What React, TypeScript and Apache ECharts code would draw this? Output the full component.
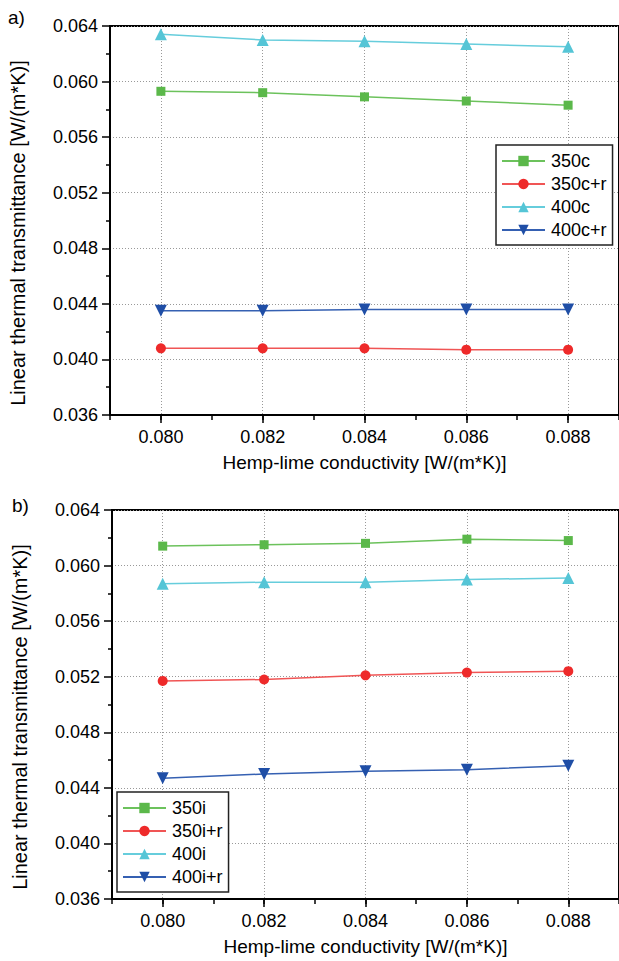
import React, { useEffect, useRef } from "react";
import * as echarts from "echarts";

const xValues = [0.08, 0.082, 0.084, 0.086, 0.088];
const majorXTicks = [0.08, 0.082, 0.084, 0.086, 0.088];

const namesA = ["350c", "350c+r", "400c", "400c+r"];
const s350c = [0.0593, 0.0592, 0.0589, 0.0586, 0.0583];
const s350cr = [0.0408, 0.0408, 0.0408, 0.0407, 0.0407];
const s400c = [0.0634, 0.063, 0.0629, 0.0627, 0.0625];
const s400cr = [0.0435, 0.0435, 0.0436, 0.0436, 0.0436];

const namesB = ["350i", "350i+r", "400i", "400i+r"];
const s350i = [0.0614, 0.0615, 0.0616, 0.0619, 0.0618];
const s350ir = [0.0517, 0.0518, 0.0521, 0.0523, 0.0524];
const s400i = [0.0587, 0.0588, 0.0588, 0.059, 0.0591];
const s400ir = [0.0447, 0.045, 0.0452, 0.0453, 0.0456];

const xTitle = "Hemp-lime conductivity [W/(m*K)]";
const yTitle = "Linear thermal transmittance [W/(m*K)]";

const FONT = "'Liberation Sans', Arial, sans-serif";

const styles = [
  { symbol: "rect", size: 9, rotate: 0, color: "#5bb84a", line: "#6cc25c" },
  { symbol: "circle", size: 10, rotate: 0, color: "#ee2a2a", line: "#f05555" },
  { symbol: "triangle", size: 12, rotate: 0, color: "#55c5d6", line: "#66cddc" },
  { symbol: "triangle", size: 12, rotate: 180, color: "#1f4ea6", line: "#3560b2" },
];

function makeSeries(name: string, vals: number[], idx: number, xi: number, yi: number) {
  const st = styles[idx];
  return {
    name,
    type: "line",
    xAxisIndex: xi,
    yAxisIndex: yi,
    data: xValues.map((x, i) => [x, vals[i]]),
    symbol: st.symbol,
    symbolSize: st.size,
    symbolRotate: st.rotate,
    itemStyle: { color: st.color },
    lineStyle: { color: st.line, width: 1.5 },
    z: 3,
  };
}

function minorX(gridIndex: number) {
  return {
    type: "value",
    gridIndex,
    min: 0.079,
    max: 0.089,
    interval: 0.001,
    position: "bottom",
    axisLine: { show: true, onZero: false, lineStyle: { color: "#000", width: 2 } },
    axisTick: { show: true, inside: false, length: 5, lineStyle: { color: "#000", width: 1.5 } },
    axisLabel: { show: false },
    splitLine: { show: false },
  };
}

function majorX(gridIndex: number) {
  return {
    type: "value",
    gridIndex,
    min: 0.079,
    max: 0.089,
    interval: 0.001,
    position: "bottom",
    name: xTitle,
    nameLocation: "middle",
    nameGap: 38,
    nameTextStyle: { fontSize: 19, color: "#000", fontFamily: FONT },
    axisLine: { show: false, onZero: false },
    axisTick: {
      show: true,
      inside: false,
      length: 8,
      customValues: majorXTicks,
      lineStyle: { color: "#000", width: 1.5 },
    },
    axisLabel: {
      show: true,
      customValues: majorXTicks,
      margin: 13,
      fontSize: 18,
      color: "#000",
      fontFamily: FONT,
      formatter: (v: number) => v.toFixed(3),
    },
    splitLine: {
      show: true,
      lineStyle: { color: "#999", type: [1, 2], width: 1 },
    },
  };
}

function yAx(gridIndex: number) {
  return {
    type: "value",
    gridIndex,
    min: 0.036,
    max: 0.064,
    interval: 0.004,
    axisLine: { show: true, onZero: false, lineStyle: { color: "#000", width: 2 } },
    axisTick: { show: true, inside: false, length: 8, lineStyle: { color: "#000", width: 1.5 } },
    minorTick: { show: true, splitNumber: 2, length: 4, lineStyle: { color: "#000", width: 1.5 } },
    axisLabel: {
      margin: 12,
      fontSize: 18,
      color: "#000",
      fontFamily: FONT,
      formatter: (v: number) => v.toFixed(3),
    },
    splitLine: { show: true, lineStyle: { color: "#999", type: [1, 2], width: 1 } },
  };
}

function legend(names: string[], left: number, top: number) {
  return {
    data: names,
    orient: "vertical",
    left,
    top,
    padding: [7, 6, 6, 5],
    itemGap: 5,
    itemWidth: 43,
    itemHeight: 13,
    backgroundColor: "#fff",
    borderColor: "#222",
    borderWidth: 1.5,
    borderRadius: 0,
    textStyle: { fontSize: 18, color: "#000", fontFamily: FONT, padding: [0, 0, 0, 1] },
  };
}

export default function App() {
  const ref = useRef<HTMLDivElement>(null);
  useEffect(() => {
    if (!ref.current) return;
    const chart = echarts.init(ref.current, null, { renderer: "svg" });
    chart.setOption({
      animation: false,
      backgroundColor: "#fff",
      grid: [
        { left: 110, top: 26, width: 512, height: 389, show: true, borderColor: "#000", borderWidth: 2, backgroundColor: "transparent" },
        { left: 112, top: 510, width: 512, height: 389, show: true, borderColor: "#000", borderWidth: 2, backgroundColor: "transparent" },
      ],
      xAxis: [minorX(0), majorX(0), minorX(1), majorX(1)],
      yAxis: [yAx(0), yAx(1)],
      legend: [legend(namesA, 496, 145), legend(namesB, 117, 792)],
      series: [
        makeSeries(namesA[0], s350c, 0, 0, 0),
        makeSeries(namesA[1], s350cr, 1, 0, 0),
        makeSeries(namesA[2], s400c, 2, 0, 0),
        makeSeries(namesA[3], s400cr, 3, 0, 0),
        makeSeries(namesB[0], s350i, 0, 2, 1),
        makeSeries(namesB[1], s350ir, 1, 2, 1),
        makeSeries(namesB[2], s400i, 2, 2, 1),
        makeSeries(namesB[3], s400ir, 3, 2, 1),
      ],
      graphic: [
        { type: "text", left: 8, top: 8, style: { text: "a)", fontSize: 19, fill: "#000", fontFamily: FONT } },
        { type: "text", left: 12, top: 496, style: { text: "b)", fontSize: 19, fill: "#000", fontFamily: FONT } },
        {
          type: "text",
          x: 18,
          y: 233,
          rotation: Math.PI / 2,
          style: { text: yTitle, fontSize: 20, fill: "#000", fontFamily: FONT, align: "center", verticalAlign: "middle" },
        },
        {
          type: "text",
          x: 20,
          y: 717,
          rotation: Math.PI / 2,
          style: { text: yTitle, fontSize: 20, fill: "#000", fontFamily: FONT, align: "center", verticalAlign: "middle" },
        },
      ],
    });
    return () => chart.dispose();
  }, []);
  return <div ref={ref} style={{ position: "fixed", left: 0, top: 0, width: 619, height: 961 }} />;
}
